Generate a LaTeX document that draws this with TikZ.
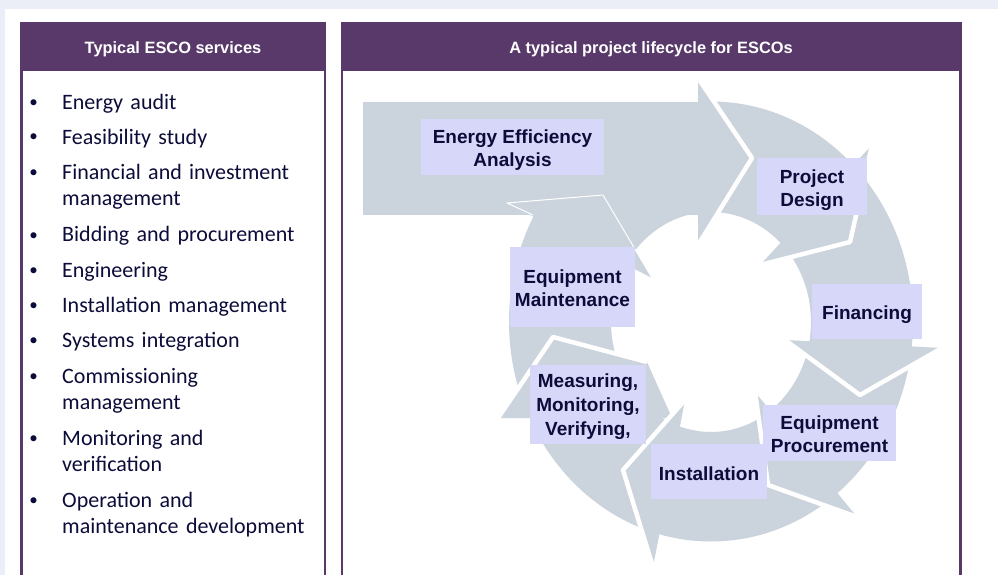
\documentclass[tikz,border=0pt]{standalone}
\usepackage{fontspec}
\setmainfont{Liberation Sans}
\newfontfamily\listfont{Carlito}
\usepackage{tikz}
\usetikzlibrary{calc}
\usepackage{color}
\definecolor{esco}{RGB}{88,57,106}
\definecolor{strip}{RGB}{235,238,246}
\definecolor{ring}{RGB}{203,211,220}
\definecolor{lav}{RGB}{215,215,250}
\definecolor{ink}{RGB}{12,12,58}
\newcommand{\lift}[1]{\rule{0pt}{#1pt}}

\begin{document}
\begin{tikzpicture}
      [x = 1pt, y = -1pt,
      panel/.style={draw = esco, line width = 2.5pt},
      title/.style= {
         anchor = base,
         text = white,
         inner sep = 0pt,
         font = \bfseries\fontsize{16.4}{19}\selectfont
      },
      bul/.style= {
         anchor = base,
         inner sep = 0pt,
         text = ink,
         font = \listfont\fontsize{17}{20}\selectfont
      },
      item/.style= {
         anchor = base west,
         inner sep = 0pt,
         text = ink,
         text width = 262pt,
         align = left,
         font = \listfont\fontsize{22}{26.5}\selectfont
      },
      stage/.style= {
         fill = lav,
         text = ink,
         align = center,
         inner sep = 0pt,
         font = \bfseries\fontsize{19}{23}\selectfont
      },
      gap/.style={white, line width = 4.5pt, line join = round},
      seam/.style={white, line width = 1pt, line join = round}]

      \useasboundingbox (0, 0) rectangle (998, 575);
      \fill[white] (0, 0) rectangle (998, 575);
      \fill[strip] (0, 0) rectangle (998, 9.5);
      \fill[strip] (0, 0) rectangle (5, 575);

      \draw[panel] (21.25, 23) rectangle (324.75, 600);
      \fill[esco] (20, 22) rectangle (326, 71);
      \draw (173, 54) node[title] (t1) {Typical ESCO services};

      \draw[panel] (341.75, 23) rectangle (960.25, 600);
      \fill[esco] (340.5, 22) rectangle (961.5, 71);
      \draw (651, 54) node[title] (t2) {A typical project lifecycle for ESCOs};

      \draw (33.5, 108) node[bul] (b1) {\textbullet};
      \draw (62, 109.5) node[item] (it1) {Energy audit};
      \draw (33.5, 142) node[bul] (b2) {\textbullet};
      \draw (62, 144.5) node[item] (it2) {Feasibility study};
      \draw (33.5, 177) node[bul] (b3) {\textbullet};
      \draw (62, 179) node[item] (it3) {Financial and investment\\management};
      \draw (33.5, 240) node[bul] (b4) {\textbullet};
      \draw (62, 241) node[item] (it4) {Bidding and procurement};
      \draw (33.5, 275) node[bul] (b5) {\textbullet};
      \draw (62, 277) node[item] (it5) {Engineering};
      \draw (33.5, 310) node[bul] (b6) {\textbullet};
      \draw (62, 312) node[item] (it6) {Installation management};
      \draw (33.5, 345) node[bul] (b7) {\textbullet};
      \draw (62, 347) node[item] (it7) {Systems integration};
      \draw (33.5, 381) node[bul] (b8) {\textbullet};
      \draw (62, 383) node[item] (it8) {Commissioning\\management};
      \draw (33.5, 443) node[bul] (b9) {\textbullet};
      \draw (62, 445) node[item] (it9) {Monitoring and\\verification};
      \draw (33.5, 505) node[bul] (b10) {\textbullet};
      \draw (62, 507) node[item] (it10) {Operation and\\maintenance development};

      \fill[ring, even odd rule] (711, 321.5) ellipse [x radius = 202pt, y radius = 220pt]
         (711, 322) ellipse [x radius = 100pt, y radius = 110pt];
      \fill[ring] (363, 102) rectangle (700, 215);

      \fill[ring] (698, 78) -- (752, 158) -- (698, 245) -- cycle;
      \fill[ring] (872, 145) -- (850, 242) -- (760, 265) -- cycle;
      \fill[ring] (942, 348) -- (860, 395) -- (785, 340) -- cycle;
      \fill[ring] (857, 517) -- (768, 485) -- (755, 392) -- cycle;
      \fill[ring] (653, 567) -- (623, 470) -- (685, 400) -- cycle;
      \fill[ring] (498, 418) -- (553, 337) -- (647, 362) -- (672, 418) -- cycle;
      \fill[ring] (507, 203) -- (603, 195) -- (652, 278) -- cycle;

      \draw[gap] (698, 78) -- (752, 158) -- (698, 245);
      \draw[gap] (872, 145) -- (850, 242) -- (760, 265);
      \draw[gap] (942, 348) -- (860, 395) -- (785, 340);
      \draw[gap] (857, 517) -- (768, 485) -- (755, 392);
      \draw[gap] (653, 567) -- (623, 470) -- (685, 400);
      \draw[gap] (498, 418) -- (553, 337) -- (647, 362);
      \draw[seam] (533, 215) -- (507, 203) -- (603, 195) -- (652, 278);

      \draw (512.5, 147) node[stage, minimum width = 183pt, minimum height = 56pt] (eea) {\lift{20}Energy Efficiency\\Analysis};
      \draw (812, 186.5) node[stage, minimum width = 110pt, minimum height = 57pt] (design) {\lift{21}Project\\Design};
      \draw (867, 311.5) node[stage, minimum width = 110pt, minimum height = 55pt] (finance) {\lift{20}Financing};
      \draw (829.5, 433) node[stage, minimum width = 133pt, minimum height = 56pt] (procure) {\lift{16}Equipment\\Procurement};
      \draw (709, 471.5) node[stage, minimum width = 116pt, minimum height = 55pt] (install) {\lift{18}Installation};
      \draw (588, 404.5) node[stage, minimum width = 116pt, minimum height = 79pt] (mmv) {\lift{18}Measuring,\\[0.8pt]Monitoring,\\[0.8pt]Verifying,};
      \draw (572.5, 287) node[stage, minimum width = 125pt, minimum height = 80pt] (maint) {\lift{16}Equipment\\Maintenance};

   \end{tikzpicture}
\end{document}
